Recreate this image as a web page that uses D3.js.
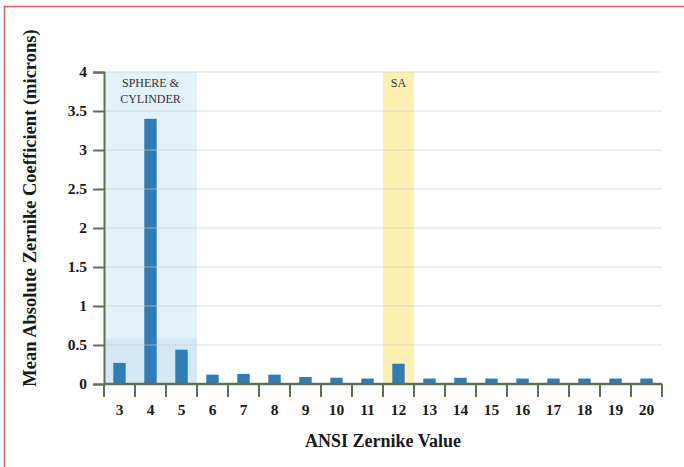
<!DOCTYPE html>
<html>
<head>
<meta charset="utf-8">
<script src="https://cdn.jsdelivr.net/npm/d3@7"></script>
<style>
  html, body { margin: 0; padding: 0; background: #fff; }
  svg { display: block; font-family: "Liberation Serif", "Times New Roman", serif; }
</style>
</head>
<body>
<svg id="chart"></svg>
<script>
'use strict';

// ANSI Zernike index and mean absolute coefficient (microns)
var categories = [3, 4, 5, 6, 7, 8, 9, 10, 11, 12, 13, 14, 15, 16, 17, 18, 19, 20];
var values = [0.27, 3.40, 0.44, 0.12, 0.13, 0.12, 0.09, 0.08, 0.07, 0.26, 0.07, 0.08, 0.07, 0.07, 0.07, 0.07, 0.07, 0.07];
var yTicks = [0, 0.5, 1, 1.5, 2, 2.5, 3, 3.5, 4];

// highlighted groups
var sphereCats = [3, 4, 5];
var saCats = [12];

(function () {
  var width = 684,
    height = 467,
    plotLeft = 104,
    plotRight = 662,
    plotTop = 72,
    plotBottom = 384,
    axisColor = '#5e7152',
    barColor = '#2f7db5',
    textColor = '#1a1a1a';

  var svg = d3.select('#chart').attr('width', width).attr('height', height);

  // red frame
  svg.append('rect')
    .attr('x', 4.5).attr('y', 6.5)
    .attr('width', width + 10).attr('height', height + 10)
    .attr('fill', 'none').attr('stroke', '#f0575a').attr('stroke-width', 1.5);

  var xStep = d3.scaleBand().domain(categories).range([plotLeft, plotRight]).padding(0);
  var x = d3.scaleBand().domain(categories).range([plotLeft, plotRight]).paddingInner(0.6).paddingOuter(0.3);
  var y = d3.scaleLinear().domain([0, 4]).range([plotBottom, plotTop]);

  // shaded regions
  var sphereX0 = xStep(sphereCats[0]),
    sphereX1 = xStep(sphereCats[sphereCats.length - 1]) + xStep.step();
  svg.append('rect')
    .attr('x', sphereX0).attr('y', y(4))
    .attr('width', sphereX1 - sphereX0).attr('height', y(0) - y(4))
    .attr('fill', '#e3f1f9');
  svg.append('rect')
    .attr('x', sphereX0).attr('y', y(0.58))
    .attr('width', sphereX1 - sphereX0).attr('height', y(0) - y(0.58))
    .attr('fill', '#d4e9f5');

  var saX0 = xStep(saCats[0]);
  svg.append('rect')
    .attr('x', saX0).attr('y', y(4))
    .attr('width', xStep.step()).attr('height', y(0) - y(4))
    .attr('fill', '#fef0b0');

  // bars
  svg.append('g').selectAll('rect')
    .data(categories)
    .enter().append('rect')
    .attr('x', function (d) { return x(d); })
    .attr('y', function (d, i) { return y(values[i]); })
    .attr('width', x.bandwidth())
    .attr('height', function (d, i) { return y(0) - y(values[i]); })
    .attr('fill', barColor);

  // gridlines drawn over the bars
  svg.append('g').selectAll('line')
    .data(yTicks.filter(function (t) { return t > 0; }))
    .enter().append('line')
    .attr('x1', plotLeft).attr('x2', plotRight)
    .attr('y1', function (d) { return y(d); })
    .attr('y2', function (d) { return y(d); })
    .attr('stroke', '#c9c9c0').attr('stroke-opacity', 0.65).attr('stroke-width', 1.2);

  // annotations
  var notes = svg.append('g')
    .attr('font-size', 12).attr('fill', '#333').attr('text-anchor', 'middle');
  notes.append('text')
    .attr('x', (sphereX0 + sphereX1) / 2).attr('y', 87).text('SPHERE &');
  notes.append('text')
    .attr('x', (sphereX0 + sphereX1) / 2).attr('y', 103).text('CYLINDER');
  notes.append('text')
    .attr('x', saX0 + xStep.step() / 2).attr('y', 87).text('SA');

  // y axis
  var yAxis = svg.append('g')
    .attr('transform', 'translate(' + plotLeft + ',0)')
    .call(d3.axisLeft(y).tickValues(yTicks).tickSize(11).tickPadding(6)
      .tickFormat(function (d) { return String(d); }));
  yAxis.select('.domain').attr('stroke', axisColor).attr('stroke-width', 2);
  yAxis.selectAll('.tick line').attr('stroke', axisColor).attr('stroke-width', 2);
  yAxis.selectAll('.tick text')
    .attr('font-family', '"Liberation Serif", serif')
    .attr('font-size', 15.5).attr('font-weight', 'bold').attr('fill', textColor);

  // x axis: category labels
  var xAxis = svg.append('g')
    .attr('transform', 'translate(0,' + plotBottom + ')')
    .call(d3.axisBottom(xStep).tickSize(0).tickPadding(20));
  xAxis.select('.domain').remove();
  xAxis.selectAll('.tick text')
    .attr('font-family', '"Liberation Serif", serif')
    .attr('font-size', 15.5).attr('font-weight', 'bold').attr('fill', textColor);

  // x axis line and separator ticks
  svg.append('line')
    .attr('x1', plotLeft).attr('x2', plotRight)
    .attr('y1', plotBottom).attr('y2', plotBottom)
    .attr('stroke', axisColor).attr('stroke-width', 2.5);
  svg.append('g').selectAll('line')
    .data(categories.concat(['end']))
    .enter().append('line')
    .attr('x1', function (d, i) { return plotLeft + i * xStep.step(); })
    .attr('x2', function (d, i) { return plotLeft + i * xStep.step(); })
    .attr('y1', plotBottom).attr('y2', plotBottom + 13)
    .attr('stroke', axisColor).attr('stroke-width', 2);

  // axis titles
  svg.append('text')
    .attr('x', 383).attr('y', 447)
    .attr('text-anchor', 'middle')
    .attr('font-size', 18).attr('font-weight', 'bold').attr('fill', textColor)
    .text('ANSI Zernike Value');

  svg.append('text')
    .attr('transform', 'translate(36,208) rotate(-90)')
    .attr('text-anchor', 'middle')
    .attr('font-size', 18.5).attr('font-weight', 'bold').attr('fill', textColor)
    .text('Mean Absolute Zernike Coefficient (microns)');
})();
</script>
</body>
</html>
